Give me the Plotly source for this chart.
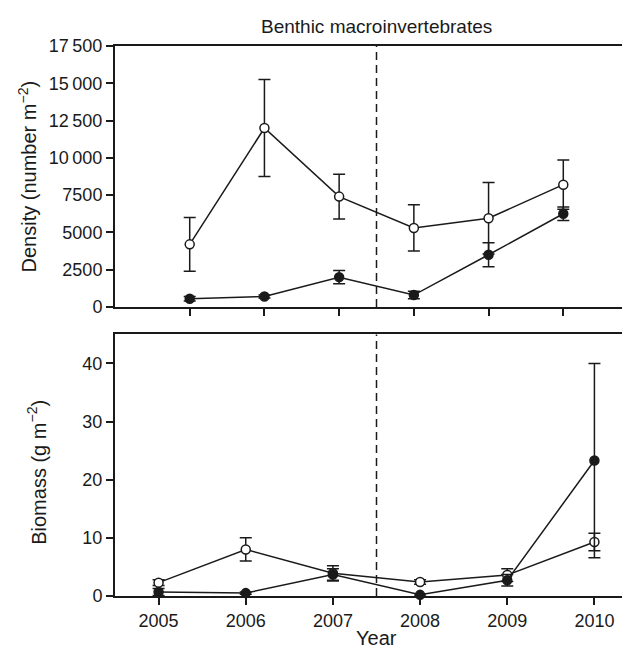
import plotly.graph_objects as go
from plotly.subplots import make_subplots

years = [2005, 2006, 2007, 2008, 2009, 2010]

# Density (number m-2)
density_open = [4200, 12000, 7400, 5300, 5950, 8200]
density_open_se = [1800, 3250, 1500, 1550, 2400, 1650]
density_filled = [550, 700, 2000, 800, 3500, 6250]
density_filled_se = [150, 100, 450, 250, 800, 450]

# Biomass (g m-2)
biomass_open = [2.3, 8.0, 3.9, 2.4, 3.6, 9.3]
biomass_open_se = [0.5, 2.0, 1.3, 0.4, 1.1, 1.5]
biomass_filled = [0.7, 0.5, 3.7, 0.2, 2.7, 23.3]
biomass_filled_se = [0.6, 0.2, 1.0, 0.2, 1.0, 16.7]

density_ticks = [0, 2500, 5000, 7500, 10000, 12500, 15000, 17500]
density_ticktext = ["0", "2500", "5000", "7500", "10\u2009000", "12\u2009500", "15\u2009000", "17\u2009500"]
biomass_ticks = [0, 10, 20, 30, 40]

FONT = "Liberation Sans, Arial, Helvetica, sans-serif"
INK = "#1a1a1a"

fig = make_subplots(rows=2, cols=1, shared_xaxes=False, vertical_spacing=0.05)


def add_series(row, y, err, filled):
    fig.add_trace(go.Scatter(
        x=years, y=y, mode="lines+markers",
        line=dict(color=INK, width=1.5),
        marker=dict(size=9, color=INK if filled else "white",
                    line=dict(color=INK, width=1.5), symbol="circle"),
        error_y=dict(type="data", array=err, visible=True, color=INK,
                     thickness=1.5, width=6),
        showlegend=False, cliponaxis=False,
    ), row=row, col=1)


add_series(1, density_open, density_open_se, False)
add_series(1, density_filled, density_filled_se, True)
add_series(2, biomass_open, biomass_open_se, False)
add_series(2, biomass_filled, biomass_filled_se, True)

axis_common = dict(showline=True, linecolor=INK, linewidth=2, ticks="outside",
                   ticklen=7, tickwidth=1.5, tickcolor=INK, showgrid=False,
                   zeroline=False, automargin=False,
                   tickfont=dict(size=18, color=INK, family=FONT))

fig.update_xaxes(**axis_common, mirror=True)
fig.update_yaxes(**axis_common)

title_font = dict(size=20, color=INK, family=FONT)

fig.update_layout(
    xaxis=dict(domain=[0, 1], range=[2004, 2011], tickvals=years,
               showticklabels=False),
    yaxis=dict(domain=[0.5255, 1], range=[0, 17500], tickvals=density_ticks,
               ticktext=density_ticktext),
    xaxis2=dict(domain=[0, 1], range=[2004.5, 2010.5], tickvals=years),
    yaxis2=dict(domain=[0, 0.4756], range=[0, 45], tickvals=biomass_ticks),
    width=630, height=650,
    margin=dict(l=107, r=0, t=38, b=62),
    paper_bgcolor="white", plot_bgcolor="white",
    font=dict(family=FONT, color=INK),
    annotations=[
        dict(text="Benthic macroinvertebrates", xref="paper", yref="paper",
             x=0.5, y=1.035, xanchor="center", yanchor="middle",
             showarrow=False, font=dict(size=19, color=INK, family=FONT)),
        dict(text="Density (number m<sup>\u22122</sup>)", xref="paper", yref="paper",
             x=-0.168, y=0.763, xanchor="center", yanchor="middle", textangle=-90,
             showarrow=False, font=title_font),
        dict(text="Biomass (g m<sup>\u22122</sup>)", xref="paper", yref="paper",
             x=-0.15, y=0.225, xanchor="center", yanchor="middle", textangle=-90,
             showarrow=False, font=title_font),
        dict(text="Year", xref="paper", yref="paper",
             x=0.5, y=-0.1, xanchor="center", yanchor="bottom",
             showarrow=False, font=title_font),
    ],
    shapes=[
        dict(type="line", xref="x", yref="y domain", x0=2007.5, x1=2007.5, y0=0, y1=1,
             line=dict(color=INK, width=1.5, dash="8px,5px")),
        dict(type="line", xref="x2", yref="y2 domain", x0=2007.5, x1=2007.5, y0=0, y1=1,
             line=dict(color=INK, width=1.5, dash="8px,5px")),
    ],
)

fig.write_html("out.html")
